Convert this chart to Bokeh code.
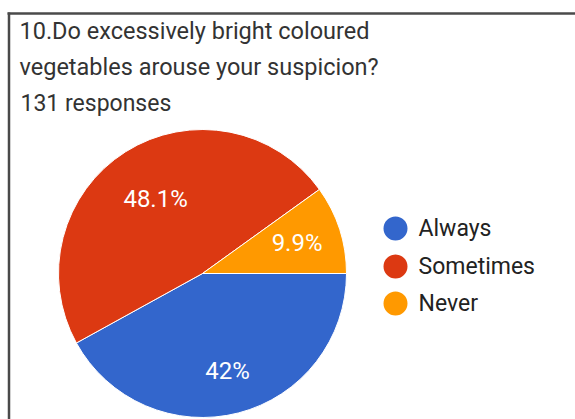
import math
from bokeh.plotting import figure
from bokeh.models import Range1d, ColumnDataSource
from bokeh.core.properties import value
from bokeh.embed import file_html
from bokeh.resources import INLINE

# ---- data ----
title_lines = ["10.Do excessively bright coloured", "vegetables arouse your suspicion?"]
subtitle = "131 responses"
categories = ["Always", "Sometimes", "Never"]
counts = [55, 63, 13]
colors = ["#3366cc", "#dc3912", "#ff9900"]

W, H = 575, 419
FONT = "Roboto"

def py(y):  # pixel-from-top to data y
    return H - y

p = figure(width=W, height=H, output_backend="svg", toolbar_location=None,
           x_range=Range1d(0, W), y_range=Range1d(0, H), min_border=0)
p.axis.visible = False
p.grid.visible = False
p.outline_line_color = None
p.background_fill_color = "white"
p.border_fill_color = "white"

# frame lines (top and left)
p.line([7, W], [py(13), py(13)], line_color="#4a4a4a", line_width=2.5)
p.line([8.5, 8.5], [py(12), 0], line_color="#4a4a4a", line_width=2.5)

# titles
p.text(x=[19, 19], y=[py(30), py(66)], text=title_lines, text_font=value(FONT),
       text_font_size="23.5px", text_color="#333333", text_baseline="middle")
p.text(x=[20], y=[py(103)], text=[subtitle], text_font=value(FONT),
       text_font_size="23px", text_color="#333333", text_baseline="middle")

# pie
cx, cy, r = 202, py(273), 144
total = sum(counts)
fracs = [c / total for c in counts]
starts, ends, mids = [], [], []
cum = 0.0
for f in fracs:
    a0 = -cum * 2 * math.pi
    cum += f
    a1 = -cum * 2 * math.pi
    starts.append(a1)
    ends.append(a0)
    mids.append((a0 + a1) / 2)

src = ColumnDataSource(dict(start=starts, end=ends, color=colors))
p.wedge(x=cx, y=cy, radius=r, start_angle="start", end_angle="end",
        fill_color="color", line_color="white", line_width=1, source=src)

label_r = [0.70, 0.61, 0.69]
labels = []
for f in fracs:
    v = round(f * 100, 1)
    labels.append(("%g" % v) + "%")
lx = [cx + lr * r * math.cos(m) for lr, m in zip(label_r, mids)]
ly = [cy + lr * r * math.sin(m) for lr, m in zip(label_r, mids)]
p.text(x=lx, y=ly, text=labels, text_font=value(FONT), text_font_size="24px",
       text_color="white", text_align="center", text_baseline="middle")

# legend
leg_y = [228, 266, 303]
p.scatter(x=[395] * 3, y=[py(v) for v in leg_y], size=24, marker="circle",
          fill_color=colors, line_color=None)
p.text(x=[418] * 3, y=[py(v) for v in leg_y], text=categories, text_font=value(FONT),
       text_font_size="23px", text_color="#222222", text_baseline="middle")

open("out.html", "w").write(file_html(p, INLINE))
